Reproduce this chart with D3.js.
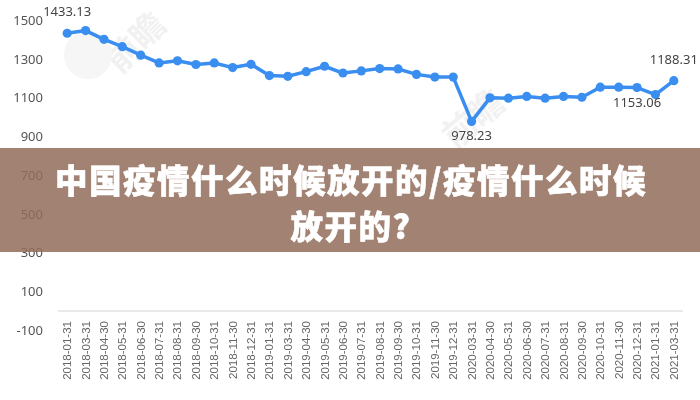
<!DOCTYPE html>
<html>
<head>
<meta charset="utf-8">
<script src="https://cdn.jsdelivr.net/npm/d3@7/dist/d3.min.js"></script>
<style>
  html, body { margin: 0; padding: 0; background: #fff; }
  svg { display: block; font-family: "Noto Sans", "DejaVu Sans", sans-serif; }
</style>
</head>
<body>
<div id="chart"></div>
<script>
// dates on the category axis
var dates = ["2018-01-31","2018-03-31","2018-04-30","2018-05-31","2018-06-30","2018-07-31",
  "2018-08-31","2018-09-30","2018-10-31","2018-11-30","2018-12-31","2019-01-31","2019-03-31",
  "2019-04-30","2019-05-31","2019-06-30","2019-07-31","2019-08-31","2019-09-30","2019-10-31",
  "2019-11-30","2019-12-31","2020-03-31","2020-04-30","2020-05-31","2020-06-30","2020-07-31",
  "2020-08-31","2020-09-30","2020-10-31","2020-11-30","2020-12-31","2021-01-31","2021-03-31"];

// values
var values = [1433.13, 1447, 1402, 1364, 1320, 1280, 1291, 1272, 1280, 1256, 1273, 1215, 1211,
  1235, 1263, 1228, 1239, 1251, 1249, 1221, 1207, 1207, 978.23, 1100, 1098, 1107, 1098,
  1107, 1103, 1155, 1155, 1153.06, 1117, 1188.31];

var yTicks = [-100, 100, 300, 500, 700, 900, 1100, 1300, 1500];

// labelled points: index and whether label sits above
var labelled = [
  { i: 0, above: true },
  { i: 22, above: false },
  { i: 31, above: false },
  { i: 33, above: true }
];

var titleLines = ["中国疫情什么时候放开的/疫情什么时候", "放开的?"];

var width = 700, height = 400;

var svg = d3.select("#chart").append("svg")
    .attr("width", width)
    .attr("height", height);

var x = d3.scaleBand().domain(dates).range([58, 683]);
var y = d3.scaleLinear().domain([-100, 1500]).range([330.4, 20.3]);
var cx = function(d) { return x(d) + x.bandwidth() / 2; };

// faint watermark
var wm = svg.append("g").attr("fill", "#d8d8d8").attr("opacity", 0.35)
    .style("font-family", "'Noto Sans CJK SC', sans-serif").style("font-weight", 700);
wm.append("text").attr("transform", "translate(120,75) rotate(-45)")
    .style("font-size", "34px").text("前瞻");
wm.append("text").attr("transform", "translate(455,150) rotate(-40)")
    .style("font-size", "34px").text("前瞻");
wm.append("circle").attr("cx", 88).attr("cy", 55).attr("r", 24).attr("fill", "#e4e4e4");

// y axis labels
svg.append("g").selectAll("text")
    .data(yTicks)
  .enter().append("text")
    .attr("x", 43)
    .attr("y", function(d) { return y(d); })
    .attr("dy", "0.35em")
    .attr("text-anchor", "end")
    .style("font-size", "13px")
    .style("fill", "#555")
    .text(function(d) { return d; });

// baseline axis at 0
svg.append("line")
    .attr("x1", 58).attr("x2", 683)
    .attr("y1", y(0)).attr("y2", y(0))
    .style("stroke", "#d4d4d4")
    .style("stroke-width", 1);

// x labels, rotated
svg.append("g").selectAll("text")
    .data(dates)
  .enter().append("text")
    .attr("transform", function(d) { return "translate(" + (cx(d) + 4) + "," + (y(0) + 10) + ") rotate(-90)"; })
    .attr("text-anchor", "end")
    .style("font-family", "'Liberation Sans', Arial, sans-serif")
    .style("font-size", "11.5px")
    .style("fill", "#666")
    .text(function(d) { return d; });

// line
var line = d3.line()
    .x(function(d, i) { return cx(dates[i]); })
    .y(function(d) { return y(d); });

svg.append("path")
    .datum(values)
    .attr("d", line)
    .style("fill", "none")
    .style("stroke", "#3a8ef0")
    .style("stroke-width", 3.5)
    .style("stroke-linejoin", "round");

svg.append("g").selectAll("circle")
    .data(values)
  .enter().append("circle")
    .attr("cx", function(d, i) { return cx(dates[i]); })
    .attr("cy", function(d) { return y(d); })
    .attr("r", 4.6)
    .style("fill", "#3a8ef0");

// value labels
svg.append("g").selectAll("text")
    .data(labelled)
  .enter().append("text")
    .attr("x", function(d) { return cx(dates[d.i]); })
    .attr("y", function(d) { return y(values[d.i]) + (d.above ? -17 : 19); })
    .attr("text-anchor", "middle")
    .style("font-size", "13px")
    .style("fill", "#444")
    .text(function(d) { return values[d.i].toFixed(2); });

// title banner
svg.append("rect")
    .attr("x", 0).attr("y", 148)
    .attr("width", width).attr("height", 104)
    .style("fill", "rgb(144,108,91)")
    .style("opacity", 0.85);

svg.append("g").selectAll("text")
    .data(titleLines)
  .enter().append("text")
    .attr("x", 351)
    .attr("y", function(d, i) { return 193 + i * 46; })
    .attr("text-anchor", "middle")
    .style("font-family", "'Noto Sans CJK SC', sans-serif")
    .style("font-weight", 900)
    .style("font-size", "32.5px")
    .style("letter-spacing", "1.5px")
    .style("fill", "#fff")
    .style("stroke", "#fff")
    .style("stroke-width", 0.6)
    .style("stroke-linejoin", "round")
    .text(function(d) { return d; });
</script>
</body>
</html>
